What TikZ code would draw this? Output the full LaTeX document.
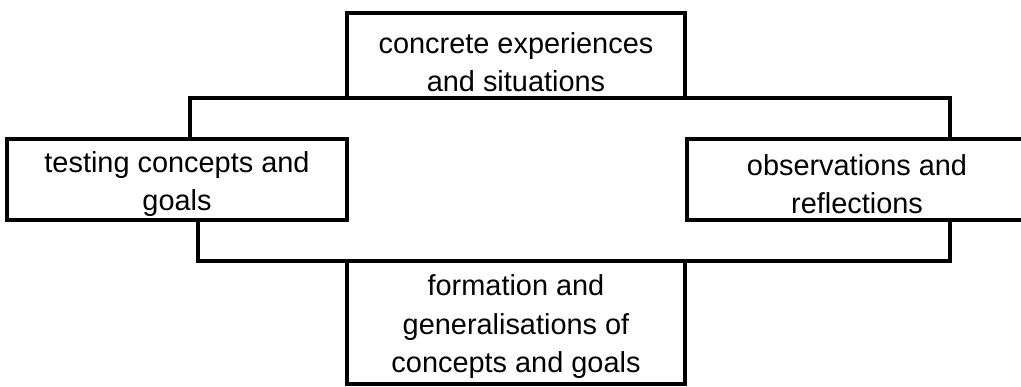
\documentclass[tikz,border=0pt]{standalone}
\usepackage{fontspec}
\setmainfont{Liberation Sans}
\begin{document}
\begin{tikzpicture}[x=1pt,y=1pt,
  box/.style={draw=black, line width=3.6pt, rectangle, inner sep=0pt},
  lbl/.style={align=center, inner sep=0pt, font=\fontsize{28.9}{38.5}\selectfont},
  conn/.style={draw=black, line width=3.6pt}]
\useasboundingbox (0,0) rectangle (1021,386);
% boxes
\node[box, minimum width=338pt, minimum height=85pt]  (T) at (516,330.5) {};
\node[box, minimum width=340pt, minimum height=81pt]  (L) at (177,206.5) {};
\node[box, minimum width=340pt, minimum height=81pt]  (R) at (857,206.5) {};
\node[box, minimum width=338pt, minimum height=123pt] (B) at (516,63.5) {};
% texts
\node[lbl] (Tt) at (516,324) {concrete experiences\\and situations};
\node[lbl] (Lt) at (177,202) {testing concepts and\\goals};
\node[lbl] (Rt) at (857,202) {observations and\\reflections};
\node[lbl] (Bt) at (516,59) {formation and\\generalisations of\\concepts and goals};
% connectors
\coordinate (tl) at (190,288);
\coordinate (tr) at (950,288);
\coordinate (bl) at (198,125);
\coordinate (br) at (950,125);
\draw[conn] (tl |- L.north) -- (tl) -- (tr) -- (tr |- R.north);
\draw[conn] (bl |- L.south) -- (bl) -- (br) -- (br |- R.south);
\end{tikzpicture}
\end{document}
